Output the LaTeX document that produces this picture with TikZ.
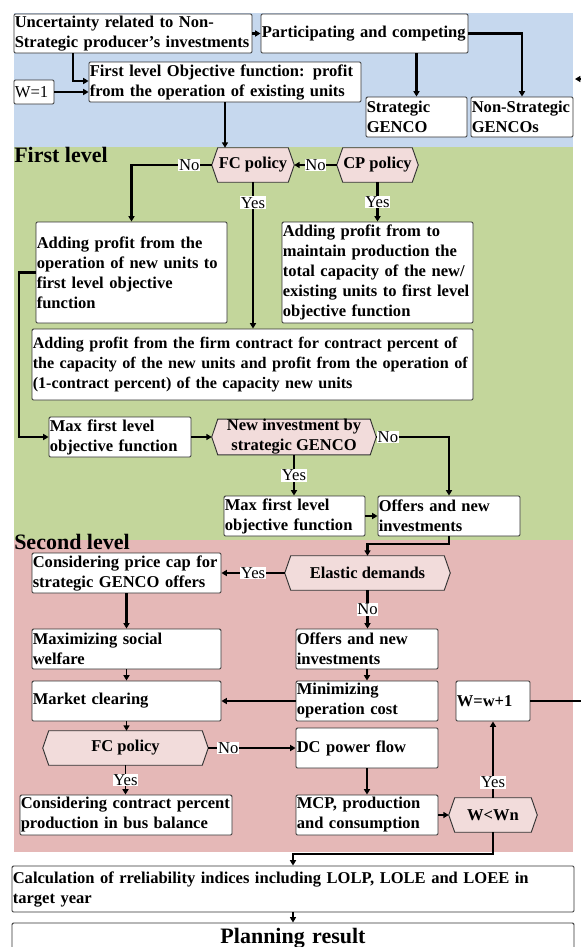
\documentclass[tikz,border=0pt]{standalone}
\usepackage{fontspec}
\setmainfont{Liberation Serif}
\usetikzlibrary{arrows.meta,calc}
\pgfdeclarelayer{regions}
\pgfdeclarelayer{shapes}
\pgfsetlayers{regions,shapes,main}

\definecolor{topblue}{HTML}{C6D8EE}
\definecolor{levelgreen}{HTML}{C3D69B}
\definecolor{levelred}{HTML}{E5B8B7}
\definecolor{hexfill}{HTML}{F2DCDB}
\definecolor{edge}{HTML}{333333}

\tikzset{
  boxfont/.style={font=\fontsize{12.4}{15}\selectfont\bfseries},
  box/.style={draw=edge, line width=0.7pt, fill=white, rounded corners=1pt,
    inner xsep=0.6pt, inner ysep=0pt, align=left, boxfont},
  hex/.style={inner sep=0pt, align=center, boxfont},
  hexline/.style={draw=edge, line width=0.7pt, fill=hexfill},
  % rectangle given by its corners (x1,y1,x2,y2) in picture units
  span/.code n args={4}{%
    \pgfmathsetmacro\spanw{(#3-#1)*0.75-1.2}%
    \pgfmathsetmacro\spanh{(#4-#2)*0.75}%
    \pgfmathsetmacro\spanx{(#1+#3)/2}%
    \pgfmathsetmacro\spany{(#2+#4)/2}%
    \edef\spantmp{\noexpand\pgfkeysalso{text width=\spanw pt,
      minimum height=\spanh pt, at={(\spanx,\spany)}}}\spantmp},
  hspan/.code n args={4}{%
    \pgfmathsetmacro\spanw{(#3-#1)*0.75}%
    \pgfmathsetmacro\spanh{(#4-#2)*0.75}%
    \pgfmathsetmacro\spanx{(#1+#3)/2}%
    \pgfmathsetmacro\spany{(#2+#4)/2}%
    \edef\spantmp{\noexpand\pgfkeysalso{minimum width=\spanw pt,
      minimum height=\spanh pt, at={(\spanx,\spany)}}}\spantmp},
  link/.style={line width=1.9pt, -{Triangle[length=4pt,width=4.5pt]}},
  lbl/.style={fill=white, inner sep=0.6pt, font=\fontsize{12.5}{15}\selectfont},
  heading/.style={anchor=base west, inner sep=0pt, font=\fontsize{16.5}{19}\selectfont\bfseries}
}

% decision outline drawn behind the named node
\newcommand\hexoutline[1]{%
  \begin{pgfonlayer}{shapes}
    \filldraw[hexline] (#1.west) -- ([xshift=4.5pt]#1.north west)
      -- ([xshift=-4.5pt]#1.north east) -- (#1.east)
      -- ([xshift=-4.5pt]#1.south east) -- ([xshift=4.5pt]#1.south west) -- cycle;
  \end{pgfonlayer}}

\begin{document}
\begin{tikzpicture}[x=0.75pt, y=-0.75pt]
\useasboundingbox (0,0) rectangle (581,947);

% level regions
\begin{pgfonlayer}{regions}
  \fill[topblue] (14,13) rectangle (573,147);
  \fill[levelgreen] (14,147) rectangle (573,540);
  \fill[levelred] (14,540) rectangle (573,852);
\end{pgfonlayer}

\node[heading] (h1) at (14,162.5) {First level};
\node[heading] (h2) at (14,549) {Second level};

% top block
\node[box, span={14}{14}{252}{53}] (unc) {Uncertainty related to Non-\\Strategic producer’s investments};
\node[box, span={261}{14}{468}{53}] (part) {Participating and competing};
\node[box, span={14}{80}{54}{104}, font=\fontsize{12.5}{15}\selectfont] (w1) {W=1};
\node[box, span={89}{62}{361}{102}] (obj) {First level Objective function: profit\\from the operation of existing units};
\node[box, span={366}{97}{467}{137}] (sg) {Strategic\\GENCO};
\node[box, span={471}{97}{573}{137}] (nsg) {Non-Strategic\\GENCOs};

% first level
\node[hex, hspan={212}{148}{294}{182}] (fc1) {FC policy}; \hexoutline{fc1}
\node[hex, hspan={337}{148}{418}{182}] (cp) {CP policy}; \hexoutline{cp}
\node[box, span={36}{222}{227}{323}] (addop) {Adding profit from the\\operation of new units to\\first level objective\\function};
\node[box, span={282}{222}{473}{323}] (addcp) {Adding profit from to\\maintain production the\\total capacity of the new/\\existing units to first level\\objective function};
\node[box, span={32}{329}{473}{400}, font=\fontsize{12.1}{15}\selectfont\bfseries] (addfirm) {Adding profit from the firm contract for contract percent of\\the capacity of the new units and profit from the operation of\\(1-contract percent) of the capacity new units};
\node[box, span={49}{417}{191}{457}] (max1) {Max first level\\objective function};
\node[hex, hspan={212}{420}{376}{454}] (newinv) {New investment by\\strategic GENCO}; \hexoutline{newinv}
\node[box, span={224}{496}{365}{536}] (max2) {Max first level\\objective function};
\node[box, span={378}{496}{520}{536}] (off1) {Offers and new\\investments};

% second level
\node[hex, hspan={285}{556}{450}{590}] (elastic) {Elastic demands}; \hexoutline{elastic}
\node[box, span={32}{553}{221}{593}] (pcap) {Considering price cap for\\strategic GENCO offers};
\node[box, span={32}{629}{221}{669}] (msw) {Maximizing social\\welfare};
\node[box, span={32}{681}{221}{721}] (mclear) {Market clearing};
\node[hex, hspan={43}{731}{208}{765}] (fc2) {FC policy}; \hexoutline{fc2}
\node[box, span={20}{795}{232}{835}] (contract) {Considering contract percent\\production in bus balance};
\node[box, span={296}{629}{438}{669}] (off2) {Offers and new\\investments};
\node[box, span={296}{681}{438}{721}] (minop) {Minimizing\\operation cost};
\node[box, span={296}{728}{438}{768}] (dcpf) {DC power flow};
\node[box, span={296}{795}{438}{835}] (mcp) {MCP, production\\and consumption};
\node[hex, hspan={449}{798}{537}{832}] (wlt) {W<Wn}; \hexoutline{wlt}
\node[box, span={456}{681}{530}{721}] (wplus) {W=w+1};

% results
\node[box, span={12}{866}{574}{912}] (calc) {Calculation of rreliability indices including LOLP, LOLE and LOEE in\\target year};
\node[box, span={12}{923}{574}{953}, align=center, font=\fontsize{16.5}{19}\selectfont\bfseries] (plan) {Planning result};

% connectors
\coordinate (k1) at (73,81);
\coordinate (k2) at (19,437);
\coordinate (k3) at (367.5,544);
\coordinate (k4) at (293,854);
\coordinate (e1) at (584,701);
\coordinate (e2) at (584,79);
\coordinate (e3) at (575,79);

\draw[link] (unc.east) -- (part.west);
\draw[link] (unc.south -| k1) |- (obj.west |- k1);
\draw[link] (w1.east) -- (w1.east -| obj.west);
\draw[link] (part.south -| sg.north) -- (sg.north);
\draw[link] (part.east) -| (nsg.north);
\draw[link] (obj.south) -- (obj.south |- fc1.north);
\draw[link, line width=1pt] (e2) -- (e3);

\draw[link] (cp.west) -- node[lbl]{No} (fc1.east);
\draw[link] (fc1.west) -| node[lbl,pos=0.14]{No} (addop.north);
\draw[link] (fc1.south) -- node[lbl,pos=0.14]{Yes} (fc1.south |- addfirm.north);
\draw[link] (cp.south) -- node[lbl]{Yes} (addcp.north);
\draw[link] (addop.west) -| (k2) -- (max1.west);
\draw[link] (max1.east) -- (newinv.west);
\draw[link] (newinv.east) -| node[lbl,pos=0.08]{No} (off1.north);
\draw[link] (newinv.south) -- node[lbl]{Yes} (newinv.south |- max2.north);
\draw[link] (max2.east) -- (off1.west);
\draw[link] (off1.south) |- (k3) -- (elastic.north);

\draw[link] (elastic.west) -- node[lbl]{Yes} (pcap.east);
\draw[link] (pcap.south) -- (msw.north);
\draw[link, line width=1.3pt] (msw.south) -- (mclear.north);
\draw[link, line width=1.3pt] (mclear.south) -- (mclear.south |- fc2.north);
\draw[link] (fc2.east) -- node[lbl,pos=0.23]{No} (fc2.east -| dcpf.west);
\draw[link, line width=1.3pt] (fc2.south) -- node[lbl]{Yes} (fc2.south |- contract.north);
\draw[link] (elastic.south) -- node[lbl]{No} (elastic.south |- off2.north);
\draw[link, line width=1.3pt] (off2.south) -- (minop.north);
\draw[link] (minop.west) -- (mclear.east);
\draw[link] (dcpf.south) -- (mcp.north);
\draw[link, line width=1.3pt] (mcp.east) -- (wlt.west);
\draw[link] (wlt.north) -- node[lbl,pos=0.2]{Yes} (wplus.south);
\draw[line width=1.9pt] (wplus.east) -- (e1);
\draw[link] (wlt.south) |- (k4) -- (calc.north);
\draw[link, line width=0.8pt] (calc.south) -- (plan.north);
\end{tikzpicture}
\end{document}
